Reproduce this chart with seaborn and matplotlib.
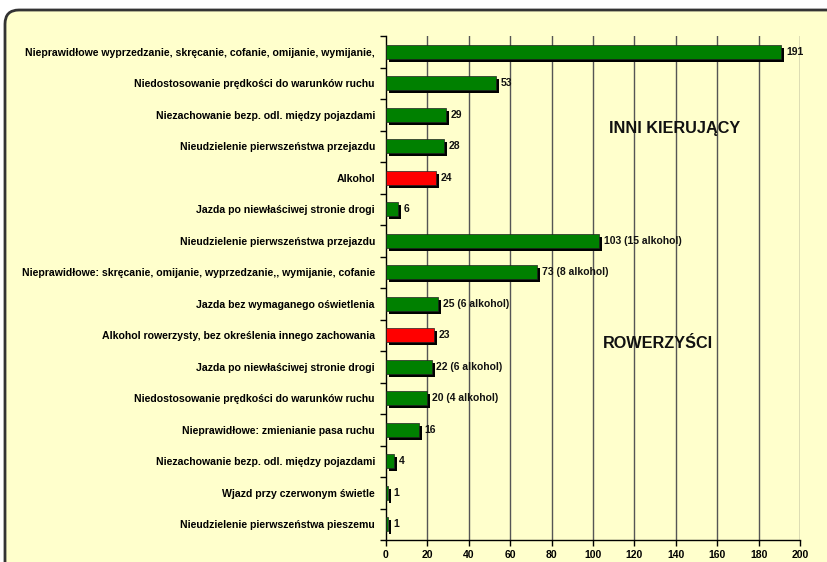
import numpy as np
import pandas as pd
import matplotlib
matplotlib.use('Agg')
import matplotlib.pyplot as plt
import matplotlib.transforms as mtransforms
from matplotlib.patches import FancyBboxPatch
import seaborn as sns

# categories top to bottom
labels = [
    'Nieprawidłowe wyprzedzanie, skręcanie, cofanie, omijanie, wymijanie,',
    'Niedostosowanie prędkości do warunków ruchu',
    'Niezachowanie bezp. odl. między pojazdami',
    'Nieudzielenie pierwszeństwa przejazdu',
    'Alkohol',
    'Jazda po niewłaściwej stronie drogi',
    'Nieudzielenie pierwszeństwa przejazdu',
    'Nieprawidłowe: skręcanie, omijanie, wyprzedzanie,, wymijanie, cofanie',
    'Jazda bez wymaganego oświetlenia',
    'Alkohol rowerzysty, bez określenia innego zachowania',
    'Jazda po niewłaściwej stronie drogi',
    'Niedostosowanie prędkości do warunków ruchu',
    'Nieprawidłowe: zmienianie pasa ruchu',
    'Niezachowanie bezp. odl. między pojazdami',
    'Wjazd przy czerwonym świetle',
    'Nieudzielenie pierwszeństwa pieszemu',
]
values = [191, 53, 29, 28, 24, 6, 103, 73, 25, 23, 22, 20, 16, 4, 1, 1]
value_text = ['191', '53', '29', '28', '24', '6', '103 (15 alkohol)', '73 (8 alkohol)',
              '25 (6 alkohol)', '23', '22 (6 alkohol)', '20 (4 alkohol)', '16', '4', '1', '1']
kind = ['inne', 'inne', 'inne', 'inne', 'alkohol', 'inne', 'inne', 'inne',
        'inne', 'alkohol', 'inne', 'inne', 'inne', 'inne', 'inne', 'inne']

df = pd.DataFrame({'pos': np.arange(len(labels)), 'value': values, 'kind': kind})

plt.rcParams['font.family'] = ['Liberation Sans', 'DejaVu Sans']

fig = plt.figure(figsize=(8.28, 5.62), dpi=100)
fig.patch.set_facecolor('white')

# rounded chart-area frame (pixel coords), running off the right and bottom edges
frame = FancyBboxPatch((5, -40), 900, 592, boxstyle='round,pad=0,rounding_size=14',
                       transform=mtransforms.IdentityTransform(), facecolor='#FFFFCC',
                       edgecolor='#333333', linewidth=2, zorder=-5)
fig.patches.append(frame)

ax = fig.add_axes([386 / 828, 22 / 562, 414 / 828, 504 / 562])
ax.set_zorder(5)
ax.set_facecolor('none')

# shadows
sns.barplot(data=df, x='value', y='pos', orient='h', color='black', width=0.43,
            saturation=1, ax=ax, zorder=2)
shadow_tr = mtransforms.offset_copy(ax.transData, fig=fig, x=3, y=-3, units='dots')
for p in ax.patches:
    p.set_transform(shadow_tr)
    p.set_linewidth(0)

# bars
sns.barplot(data=df, x='value', y='pos', orient='h', hue='kind',
            palette={'inne': '#008000', 'alkohol': '#FF0000'}, width=0.43,
            saturation=1, edgecolor='#222222', linewidth=0.5, legend=False, ax=ax, zorder=3)

for i, (v, t) in enumerate(zip(values, value_text)):
    ax.annotate(t, (v, i), xytext=(3.5, 0), textcoords='offset points', va='center', ha='left',
                fontsize=7.5, fontweight='bold', color='#111111', zorder=4)

ax.set_xlim(0, 200)
ax.set_ylim(len(labels) - 0.5, -0.5)
ax.set_xticks(np.arange(0, 201, 20))
ax.set_yticks(np.arange(len(labels)))
ax.set_yticklabels(labels, fontsize=7.6, fontweight='bold')
ax.set_yticks(np.arange(-0.5, len(labels), 1), minor=True)
ax.tick_params(axis='y', which='major', length=0, pad=8)
ax.tick_params(axis='y', which='minor', length=4, width=1, direction='out')
ax.tick_params(axis='x', length=4, width=1, labelsize=7.5, pad=3)
for lab in ax.get_xticklabels():
    lab.set_fontweight('bold')
ax.set_xlabel('')
ax.set_ylabel('')

for gx in np.arange(20, 201, 20):
    ax.axvline(gx, color='#555555', linewidth=1, zorder=1)

for s in ['top', 'right']:
    ax.spines[s].set_visible(False)
for s in ['left', 'bottom']:
    ax.spines[s].set_linewidth(1)
    ax.spines[s].set_color('black')

ax.text(107.5, 2.45, 'INNI KIERUJĄCY', fontsize=11.7, fontweight='bold', va='center', ha='left', color='#111111')
ax.text(105, 9.25, 'ROWERZYŚCI', fontsize=11.7, fontweight='bold', va='center', ha='left', color='#111111')

fig.savefig('out.png', dpi=100)
